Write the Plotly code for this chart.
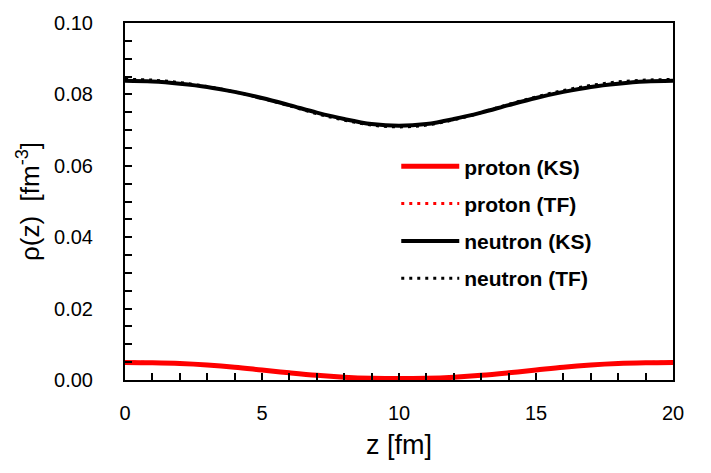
import plotly.graph_objects as go

z = [0, 1, 2, 3, 4, 5, 6, 7, 8, 9, 10, 11, 12, 13, 14, 15, 16, 17, 18, 19, 20]

proton_ks = [0.0049, 0.0048, 0.0046, 0.0042, 0.0036, 0.0028, 0.0020, 0.0013, 0.0008, 0.0005, 0.0004,
             0.0005, 0.0008, 0.0013, 0.0020, 0.0028, 0.0036, 0.0042, 0.0046, 0.0048, 0.0049]
proton_tf = [0.0050, 0.0049, 0.0046, 0.0042, 0.0036, 0.0028, 0.0020, 0.0013, 0.0008, 0.0005, 0.0004,
             0.0005, 0.0008, 0.0013, 0.0020, 0.0028, 0.0036, 0.0042, 0.0046, 0.0049, 0.0050]
neutron_ks = [0.0838, 0.0836, 0.0830, 0.0821, 0.0807, 0.0790, 0.0770, 0.0749, 0.0731, 0.0717, 0.0712,
              0.0717, 0.0731, 0.0749, 0.0770, 0.0790, 0.0807, 0.0821, 0.0830, 0.0836, 0.0838]
neutron_tf = [0.0842, 0.0840, 0.0833, 0.0822, 0.0807, 0.0789, 0.0768, 0.0746, 0.0728, 0.0714, 0.0709,
              0.0714, 0.0729, 0.0749, 0.0772, 0.0793, 0.0811, 0.0825, 0.0835, 0.0840, 0.0842]

FONT = "Liberation Sans, Arial, sans-serif"

fig = go.Figure()
series = [
    ("proton (KS)", proton_ks, "#ff0000", 5, "solid"),
    ("proton (TF)", proton_tf, "#ff0000", 3, "3px,5px"),
    ("neutron (KS)", neutron_ks, "#000000", 4, "solid"),
    ("neutron (TF)", neutron_tf, "#000000", 3, "3px,5px"),
]
for name, vals, col, w, dash in series:
    fig.add_trace(go.Scatter(x=z, y=vals, mode="lines", name=name, legendgroup=name,
                             line=dict(color=col, width=w, dash=dash, shape="spline")))

axis_common = dict(showline=True, linecolor="black", linewidth=2, mirror=True,
                   ticks="inside", ticklen=7, tickwidth=1.5, tickcolor="black",
                   showgrid=False, zeroline=False,
                   tickfont=dict(family=FONT, size=20, color="black"))

fig.update_xaxes(range=[0, 20], dtick=5, tick0=0,
                 minor=dict(dtick=1, ticks="inside", ticklen=7, tickwidth=1.5, tickcolor="black"),
                 ticklabelstandoff=14,
                 title=dict(text="z [fm]", font=dict(family=FONT, size=27, color="black"), standoff=12),
                 **axis_common)
fig.update_yaxes(range=[0, 0.1], dtick=0.02, tick0=0, tickformat=".2f",
                 minor=dict(dtick=0.005, ticks="inside", ticklen=7, tickwidth=1.5, tickcolor="black"),
                 ticklabelstandoff=26,
                 title=dict(text="ρ(z)  [fm<sup>-3</sup>]", font=dict(family=FONT, size=26, color="black"), standoff=7),
                 **axis_common)

fig.update_layout(
    width=711, height=473,
    margin=dict(l=125, r=38, t=23, b=93),
    plot_bgcolor="white", paper_bgcolor="white",
    legend=dict(x=0.495, y=0.655, xanchor="left", yanchor="top",
                font=dict(family=FONT, size=21, color="black", weight="bold"),
                bgcolor="rgba(0,0,0,0)", itemwidth=58, tracegroupgap=7,
                traceorder="grouped"),
)

fig.write_html("out.html")
